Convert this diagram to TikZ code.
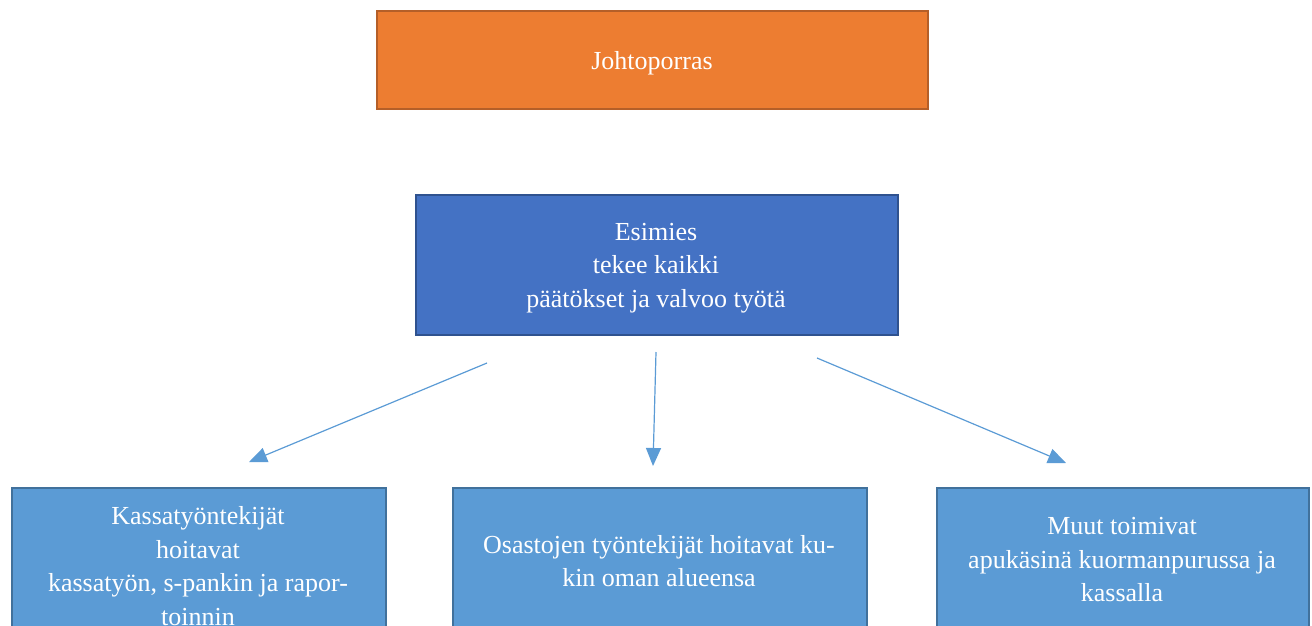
\documentclass[tikz,border=0pt]{standalone}
\usepackage{fontspec}
\setmainfont{Liberation Serif}
\usetikzlibrary{arrows.meta}
\definecolor{orangefill}{HTML}{ED7D31}
\definecolor{orangeline}{HTML}{B55F28}
\definecolor{darkblue}{HTML}{4472C4}
\definecolor{darkblueline}{HTML}{2F528F}
\definecolor{lightblue}{HTML}{5B9BD5}
\definecolor{lightblueline}{HTML}{41719C}
\tikzset{
  box/.style={draw, line width=2pt, minimum height=#1, inner sep=0pt, anchor=north west},
  txt/.style={text=white, align=center, font=\fontsize{26}{33.5}\selectfont, inner sep=0pt},
  arr/.style={draw=lightblue, line width=1.2pt, -{Triangle[length=18pt,width=15pt]}}
}
\begin{document}
\begin{tikzpicture}[x=1pt,y=-1pt]
\useasboundingbox (0,0) rectangle (1312,625);
\clip (0,0) rectangle (1312,625);
% top box
\node[box=98pt, minimum width=551pt, fill=orangefill, draw=orangeline] (top) at (376,10) {};
\node[txt] (toptxt) at (652,63) {Johtoporras};
% middle box
\node[box=140pt, minimum width=482pt, fill=darkblue, draw=darkblueline] (esi) at (415,194) {};
\node[txt] (esitxt) at (656,268) {Esimies\\tekee kaikki\\päätökset ja valvoo työtä};
% bottom boxes
\node[box=160pt, minimum width=374pt, fill=lightblue, draw=lightblueline] (b1) at (11,487) {};
\node[box=160pt, minimum width=414pt, fill=lightblue, draw=lightblueline] (b2) at (452,487) {};
\node[box=160pt, minimum width=372pt, fill=lightblue, draw=lightblueline] (b3) at (936,487) {};
\node[txt] (b1txt) at (198,566) {Kassatyöntekijät\\hoitavat\\kassatyön, s-pankin ja rapor-\\toinnin};
\node[txt] (b2txt) at (659,561) {Osastojen työntekijät hoitavat ku-\\kin oman alueensa};
\node[txt] (b3txt) at (1122,560) {Muut toimivat\\apukäsinä kuormanpurussa ja\\kassalla};
% arrows
\coordinate (s1) at (487,363);
\coordinate (e1) at (249,462);
\coordinate (s2) at (656,352);
\coordinate (e2) at (653,466);
\coordinate (s3) at (817,358);
\coordinate (e3) at (1066,463);
\draw[arr] (s1) -- (e1);
\draw[arr] (s2) -- (e2);
\draw[arr] (s3) -- (e3);
\end{tikzpicture}
\end{document}
